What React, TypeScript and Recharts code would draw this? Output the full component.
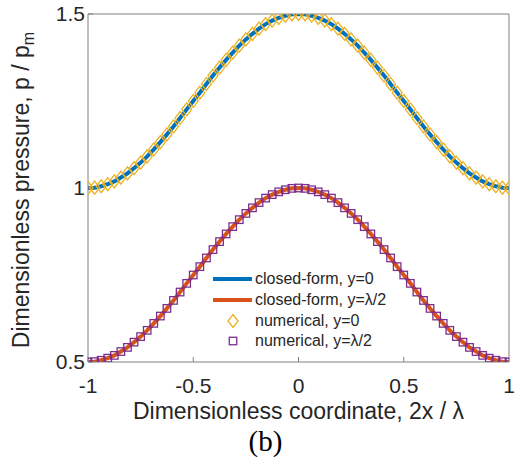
import React from 'react';
import { ComposedChart, Line, XAxis, YAxis, Legend } from 'recharts';

const xCoords = [
  -1, -0.96875, -0.9375, -0.90625, -0.875, -0.84375, -0.8125, -0.78125, -0.75, -0.71875, -0.6875,
  -0.65625, -0.625, -0.59375, -0.5625, -0.53125, -0.5, -0.46875, -0.4375, -0.40625, -0.375, -0.34375,
  -0.3125, -0.28125, -0.25, -0.21875, -0.1875, -0.15625, -0.125, -0.09375, -0.0625, -0.03125, 0,
  0.03125, 0.0625, 0.09375, 0.125, 0.15625, 0.1875, 0.21875, 0.25, 0.28125, 0.3125, 0.34375, 0.375,
  0.40625, 0.4375, 0.46875, 0.5, 0.53125, 0.5625, 0.59375, 0.625, 0.65625, 0.6875, 0.71875, 0.75,
  0.78125, 0.8125, 0.84375, 0.875, 0.90625, 0.9375, 0.96875, 1,
];

const numericalY0 = [
  1.000, 1.001, 1.005, 1.011, 1.019, 1.030, 1.042, 1.057, 1.073, 1.091, 1.111, 1.132, 1.154, 1.177,
  1.201, 1.226, 1.250, 1.274, 1.299, 1.323, 1.346, 1.368, 1.389, 1.409, 1.427, 1.443, 1.458, 1.471,
  1.481, 1.489, 1.495, 1.499, 1.500, 1.499, 1.495, 1.489, 1.481, 1.471, 1.458, 1.443, 1.427, 1.409,
  1.389, 1.368, 1.346, 1.323, 1.299, 1.274, 1.250, 1.226, 1.201, 1.177, 1.154, 1.132, 1.111, 1.091,
  1.073, 1.057, 1.042, 1.030, 1.019, 1.011, 1.005, 1.001, 1.000,
];

const numericalYHalf = [
  0.500, 0.501, 0.505, 0.511, 0.519, 0.530, 0.542, 0.557, 0.573, 0.591, 0.611, 0.632, 0.654, 0.677,
  0.701, 0.726, 0.750, 0.774, 0.799, 0.823, 0.846, 0.868, 0.889, 0.909, 0.927, 0.943, 0.958, 0.971,
  0.981, 0.989, 0.995, 0.999, 1.000, 0.999, 0.995, 0.989, 0.981, 0.971, 0.958, 0.943, 0.927, 0.909,
  0.889, 0.868, 0.846, 0.823, 0.799, 0.774, 0.750, 0.726, 0.701, 0.677, 0.654, 0.632, 0.611, 0.591,
  0.573, 0.557, 0.542, 0.530, 0.519, 0.511, 0.505, 0.501, 0.500,
];

const closedFormY0 = [
  1.000, 1.001, 1.005, 1.011, 1.019, 1.030, 1.042, 1.057, 1.073, 1.091, 1.111, 1.132, 1.154, 1.177,
  1.201, 1.226, 1.250, 1.274, 1.299, 1.323, 1.346, 1.368, 1.389, 1.409, 1.427, 1.443, 1.458, 1.471,
  1.481, 1.489, 1.495, 1.499, 1.500, 1.499, 1.495, 1.489, 1.481, 1.471, 1.458, 1.443, 1.427, 1.409,
  1.389, 1.368, 1.346, 1.323, 1.299, 1.274, 1.250, 1.226, 1.201, 1.177, 1.154, 1.132, 1.111, 1.091,
  1.073, 1.057, 1.042, 1.030, 1.019, 1.011, 1.005, 1.001, 1.000,
];

const closedFormYHalf = [
  0.500, 0.501, 0.505, 0.511, 0.519, 0.530, 0.542, 0.557, 0.573, 0.591, 0.611, 0.632, 0.654, 0.677,
  0.701, 0.726, 0.750, 0.774, 0.799, 0.823, 0.846, 0.868, 0.889, 0.909, 0.927, 0.943, 0.958, 0.971,
  0.981, 0.989, 0.995, 0.999, 1.000, 0.999, 0.995, 0.989, 0.981, 0.971, 0.958, 0.943, 0.927, 0.909,
  0.889, 0.868, 0.846, 0.823, 0.799, 0.774, 0.750, 0.726, 0.701, 0.677, 0.654, 0.632, 0.611, 0.591,
  0.573, 0.557, 0.542, 0.530, 0.519, 0.511, 0.505, 0.501, 0.500,
];

const xTicks = [-1, -0.5, 0, 0.5, 1];
const yTicks = [0.5, 1, 1.5];
const legendLabels = ['closed-form, y=0', 'closed-form, y=\u03bb/2', 'numerical, y=0', 'numerical, y=\u03bb/2'];
const xAxisTitle = 'Dimensionless coordinate, 2x / \u03bb';
const yAxisTitle = 'Dimensionless pressure, p / p';
const yAxisTitleSub = 'm';
const panelLabel = '(b)';

const BLUE = '#0072BD';
const RED = '#D95319';
const YELLOW = '#EDB120';
const PURPLE = '#7E2F8E';
const AXIS = '#808080';
const TEXT = '#262626';
const SANS = '"Liberation Sans", Arial, Helvetica, sans-serif';

const data = xCoords.map((x, i) => ({
  x,
  c0: closedFormY0[i],
  c1: closedFormYHalf[i],
  n0: numericalY0[i],
  n1: numericalYHalf[i],
}));

const diamondPath = (cx: number, cy: number) =>
  `M${cx},${cy - 6.5}L${cx + 5},${cy}L${cx},${cy + 6.5}L${cx - 5},${cy}Z`;

const DiamondDot = (props: any) => {
  const { cx, cy, index } = props;
  if (cx == null || cy == null) return <g key={`d-${index}`} />;
  return <path key={`d-${index}`} d={diamondPath(cx, cy)} fill="none" stroke={YELLOW} strokeWidth={1.3} />;
};

const SquareDot = (props: any) => {
  const { cx, cy, index } = props;
  if (cx == null || cy == null) return <g key={`s-${index}`} />;
  return (
    <rect key={`s-${index}`} x={cx - 3.75} y={cy - 3.75} width={7.5} height={7.5} fill="none" stroke={PURPLE} strokeWidth={1.3} />
  );
};

const XTitle = (props: any) => {
  const vb = props.viewBox || { x: 88, y: 362, width: 421, height: 97 };
  const cx = vb.x + vb.width / 2;
  return (
    <g>
      <text x={cx} y={vb.y + 57} textAnchor="middle" fontSize={23} fontFamily={SANS} fill={TEXT}>
        {xAxisTitle}
      </text>
      <text x={cx - 33} y={vb.y + 89} textAnchor="middle" fontSize={29} fontFamily='"Liberation Serif", "Times New Roman", serif' fill="#000">
        {panelLabel}
      </text>
    </g>
  );
};

const YTitle = (props: any) => {
  const vb = props.viewBox || { x: 0, y: 14, width: 88, height: 348 };
  const cx = 29;
  const cy = vb.y + vb.height / 2 + 2;
  return (
    <text x={cx} y={cy} transform={`rotate(-90, ${cx}, ${cy})`} textAnchor="middle" fontSize={23} fontFamily={SANS} fill={TEXT}>
      {yAxisTitle}
      <tspan fontSize={16} dy={5}>{yAxisTitleSub}</tspan>
    </text>
  );
};

const LegendBox = () => {
  const icons = [
    <line x1={5} y1={10} x2={44} y2={10} stroke={BLUE} strokeWidth={4} />,
    <line x1={5} y1={10} x2={44} y2={10} stroke={RED} strokeWidth={4} />,
    <path d={diamondPath(25, 10)} fill="none" stroke={YELLOW} strokeWidth={1.3} />,
    <rect x={21.25} y={6.25} width={7.5} height={7.5} fill="none" stroke={PURPLE} strokeWidth={1.3} />,
  ];
  return (
    <div style={{ display: 'flex', flexDirection: 'column' }}>
      {legendLabels.map((lab, i) => (
        <div key={lab} style={{ display: 'flex', alignItems: 'center', height: 20.7 }}>
          <svg width={46} height={20} style={{ display: 'block' }}>
            {icons[i]}
          </svg>
          <span style={{ fontFamily: SANS, fontSize: 16, color: TEXT, marginLeft: 1, whiteSpace: 'nowrap' }}>{lab}</span>
        </div>
      ))}
    </div>
  );
};

export default function App() {
  return (
    <div style={{ position: 'absolute', left: 0, top: 0, width: 517, height: 459, background: '#fff' }}>
      <ComposedChart width={517} height={459} data={data} margin={{ top: 13, right: 7, left: 0, bottom: 0 }}>
        <XAxis
          xAxisId={0}
          dataKey="x"
          type="number"
          domain={[-1, 1]}
          ticks={xTicks}
          allowDataOverflow
          height={97}
          tickSize={-5}
          tickMargin={21}
          stroke={AXIS}
          tick={{ fill: TEXT, fontSize: 21, fontFamily: SANS }}
          label={<XTitle />}
        />
        <XAxis
          xAxisId="top"
          orientation="top"
          type="number"
          domain={[-1, 1]}
          ticks={xTicks}
          allowDataOverflow
          height={1}
          tickSize={-5}
          stroke={AXIS}
          tick={false}
        />
        <YAxis
          yAxisId={0}
          type="number"
          domain={[0.5, 1.5]}
          ticks={yTicks}
          allowDataOverflow
          width={88}
          tickSize={-5}
          tickMargin={8}
          stroke={AXIS}
          tick={{ fill: TEXT, fontSize: 21, fontFamily: SANS }}
          label={<YTitle />}
        />
        <YAxis
          yAxisId="right"
          orientation="right"
          type="number"
          domain={[0.5, 1.5]}
          ticks={yTicks}
          allowDataOverflow
          width={1}
          tickSize={-5}
          stroke={AXIS}
          tick={false}
        />
        <Legend
          layout="horizontal"
          verticalAlign="middle"
          align="center"
          content={<LegendBox />}
          wrapperStyle={{ position: 'absolute', left: 208, top: 269, width: 'auto', height: 'auto' }}
        />
        <Line type="linear" dataKey="c0" stroke={BLUE} strokeWidth={4} dot={false} activeDot={false} isAnimationActive={false} />
        <Line type="linear" dataKey="c1" stroke={RED} strokeWidth={4} dot={false} activeDot={false} isAnimationActive={false} />
        <Line type="linear" dataKey="n0" stroke="none" dot={(p: any) => <DiamondDot key={`dd-${p.index}`} {...p} />} activeDot={false} isAnimationActive={false} />
        <Line type="linear" dataKey="n1" stroke="none" dot={(p: any) => <SquareDot key={`sd-${p.index}`} {...p} />} activeDot={false} isAnimationActive={false} />
      </ComposedChart>
    </div>
  );
}
